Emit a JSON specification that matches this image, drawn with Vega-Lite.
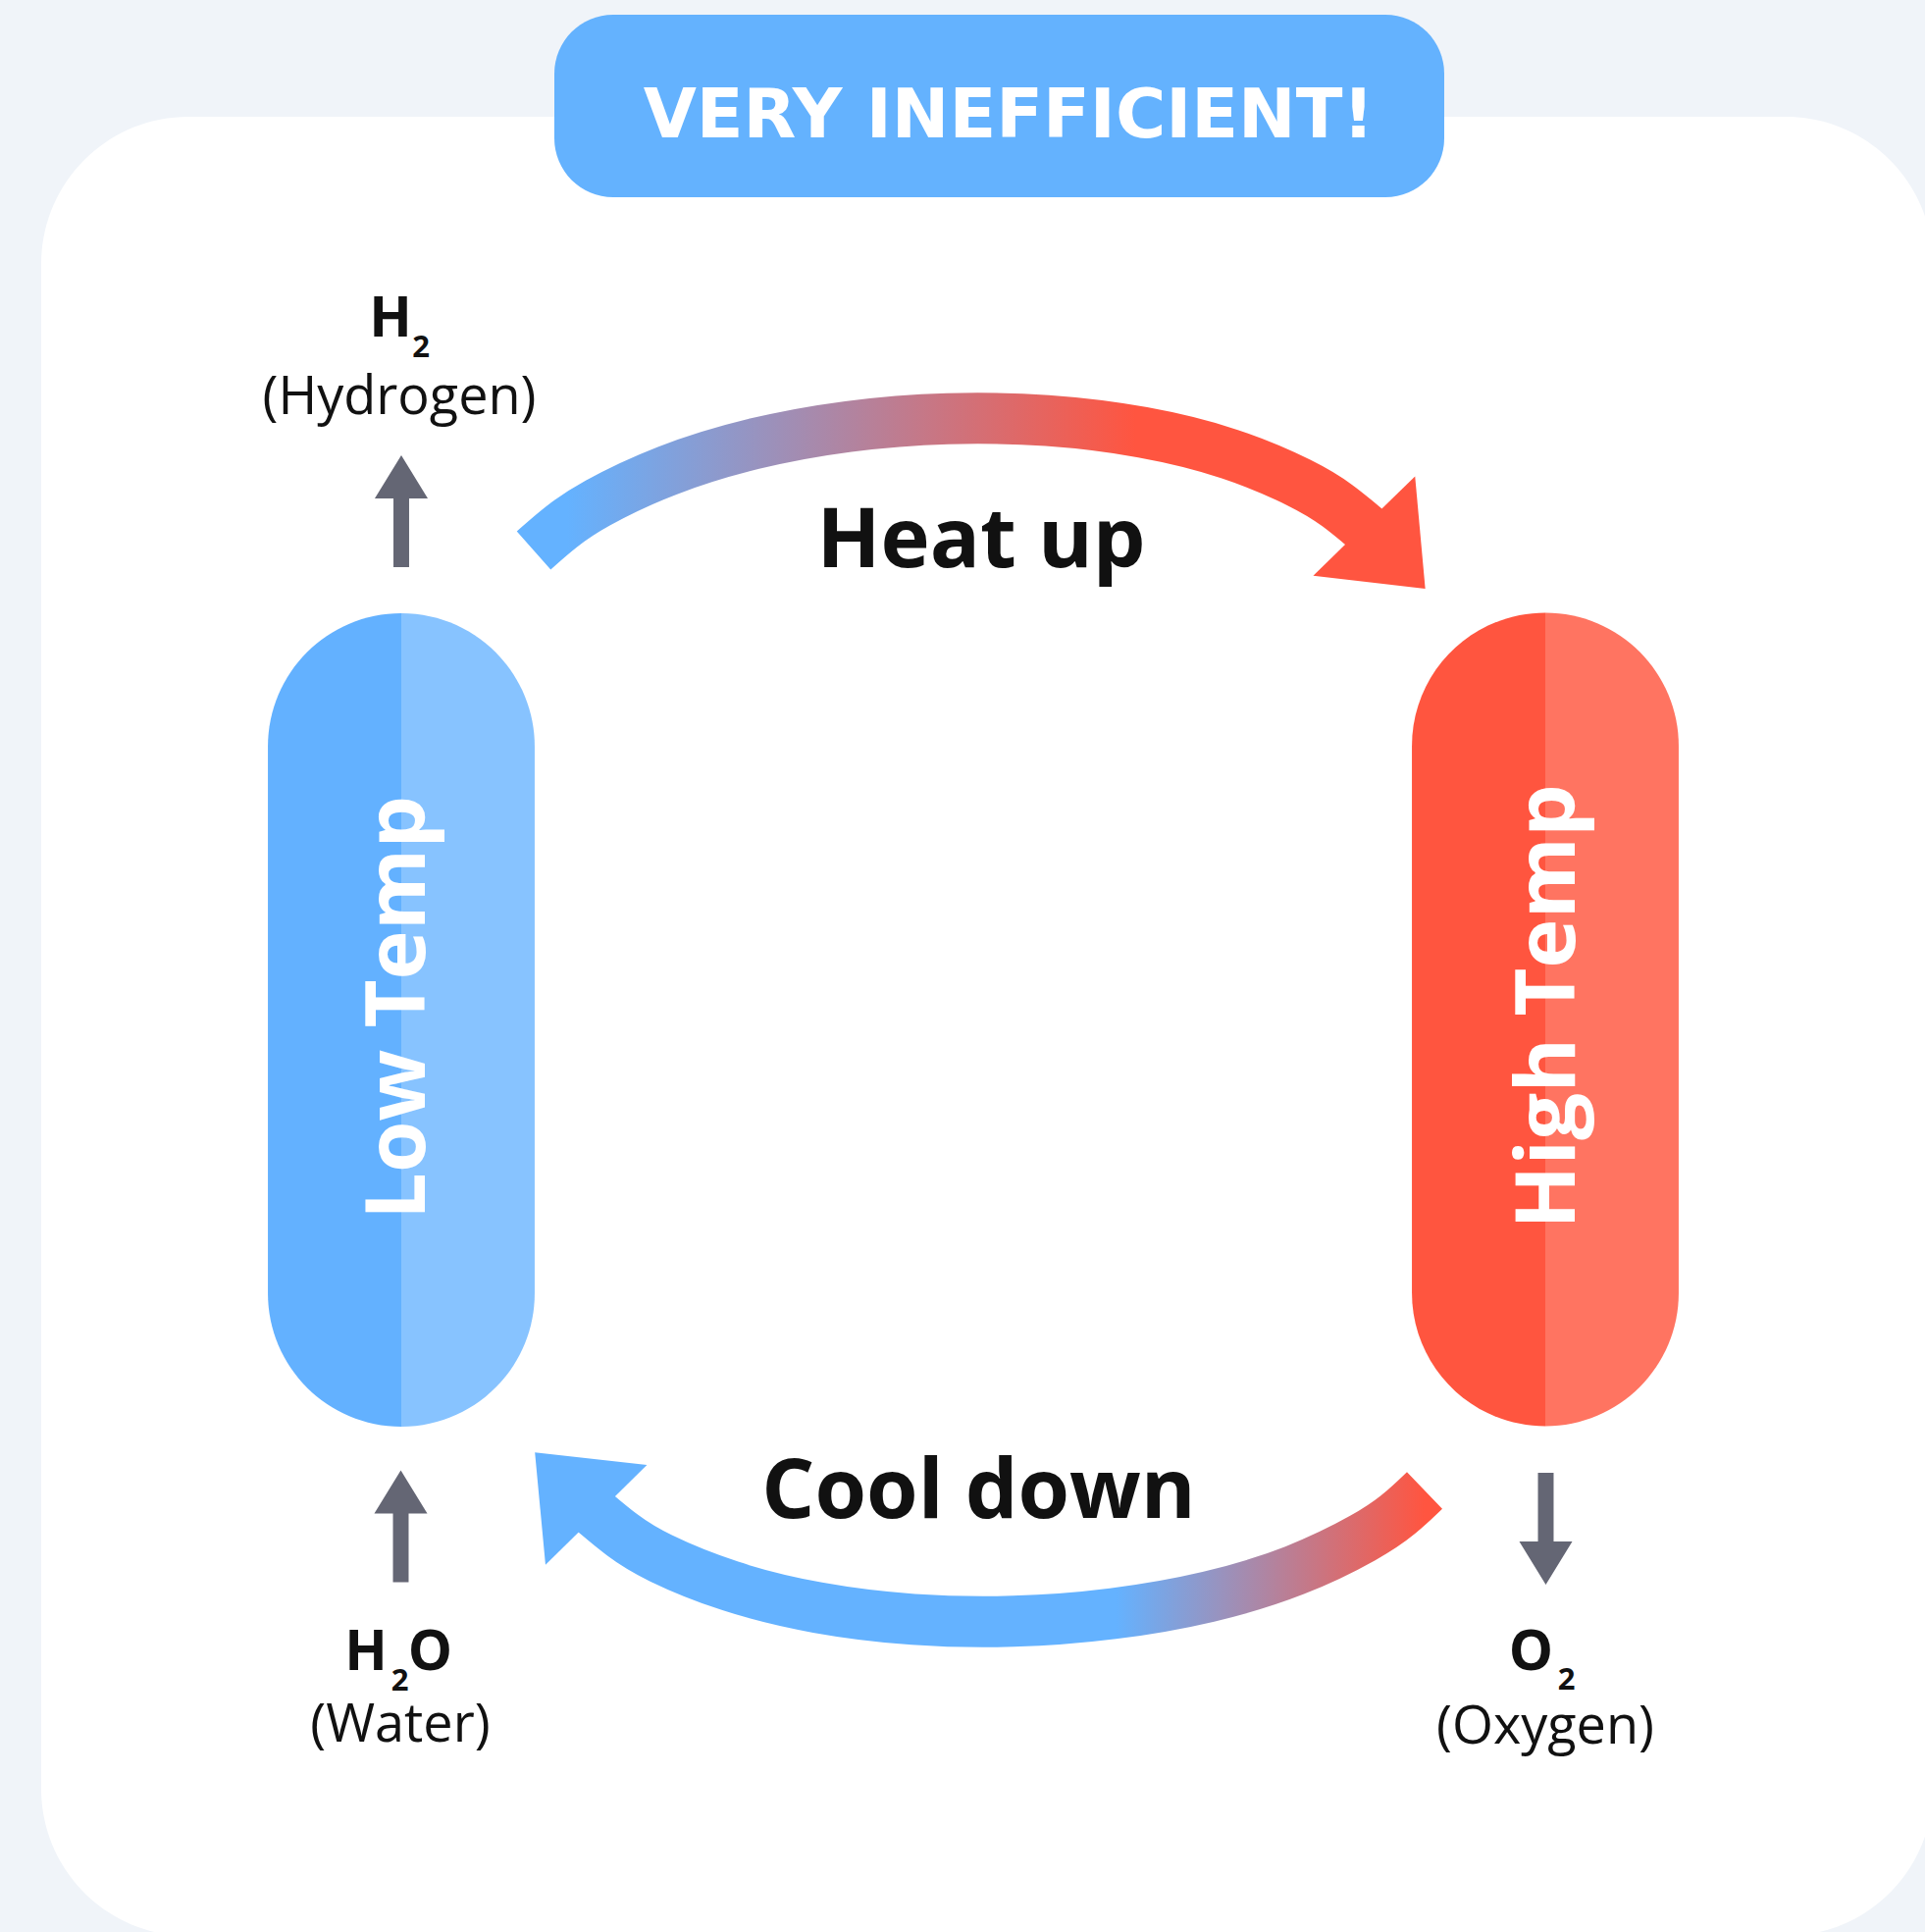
{
  "$schema": "https://vega.github.io/schema/vega-lite/v6.json",
  "width": 1962,
  "height": 1969,
  "autosize": {"type": "none"},
  "padding": 0,
  "background": "#f0f4f9",
  "config": {"view": {"stroke": null}},
  "datasets": {
    "card": [{"x": 42, "x2": 1970, "y": 119, "y2": 1973}],
    "banner": [{"x": 565, "x2": 1472, "y": 15, "y2": 201}],
    "halves": [
      {"vessel": "low", "side": "left", "tone": "blue", "x": 409, "y": 1039.5},
      {"vessel": "low", "side": "right", "tone": "lightblue", "x": 409, "y": 1039.5},
      {"vessel": "high", "side": "left", "tone": "red", "x": 1575, "y": 1039},
      {"vessel": "high", "side": "right", "tone": "lightred", "x": 1575, "y": 1039}
    ],
    "heatPath": [
      {"x": 544, "y": 561}, {"x": 571, "y": 537}, {"x": 602, "y": 515}, {"x": 678, "y": 478},
      {"x": 766, "y": 451}, {"x": 864, "y": 433}, {"x": 966, "y": 425}, {"x": 1068, "y": 427},
      {"x": 1166, "y": 439}, {"x": 1256, "y": 461}, {"x": 1331, "y": 494}, {"x": 1363, "y": 514},
      {"x": 1396, "y": 542}
    ],
    "coolPath": [
      {"x": 602, "y": 1538}, {"x": 635, "y": 1566}, {"x": 666, "y": 1586}, {"x": 742, "y": 1618},
      {"x": 832, "y": 1640}, {"x": 930, "y": 1652}, {"x": 1033, "y": 1654}, {"x": 1135, "y": 1646},
      {"x": 1233, "y": 1629}, {"x": 1322, "y": 1602}, {"x": 1396, "y": 1565}, {"x": 1427, "y": 1543},
      {"x": 1452, "y": 1519}
    ],
    "heatHead": [{"x": 1402, "y": 548}],
    "coolHead": [{"x": 596, "y": 1532}],
    "upArrows": [{"what": "hydrogen out", "x": 409, "y": 521}, {"what": "water in", "x": 408.5, "y": 1555.5}],
    "downArrows": [{"what": "oxygen out", "x": 1575.5, "y": 1558}],
    "title": [{"x": 1028, "y": 140, "label": "VERY INEFFICIENT!"}],
    "vesselLabels": [{"x": 433, "y": 1027, "label": "Low Temp"}, {"x": 1605, "y": 1026, "label": "High Temp"}],
    "stepLabels": [{"x": 1000, "y": 578, "label": "Heat up"}, {"x": 997.5, "y": 1547, "label": "Cool down"}],
    "formula": [
      {"x": 398, "y": 343, "label": "H"},
      {"x": 373, "y": 1702, "label": "H"},
      {"x": 438.5, "y": 1702, "label": "O"},
      {"x": 1560.5, "y": 1702, "label": "O"}
    ],
    "subscripts": [
      {"x": 429, "y": 364, "label": "2"},
      {"x": 407.5, "y": 1723, "label": "2"},
      {"x": 1596.5, "y": 1722, "label": "2"}
    ],
    "names": [
      {"x": 407, "y": 422, "label": "(Hydrogen)"},
      {"x": 408, "y": 1775, "label": "(Water)"},
      {"x": 1575, "y": 1777, "label": "(Oxygen)"}
    ]
  },
  "encoding": {
    "x": {"field": "x", "type": "quantitative", "scale": {"domain": [0, 1962], "nice": false, "zero": false}, "axis": null},
    "y": {"field": "y", "type": "quantitative", "scale": {"domain": [0, 1969], "nice": false, "zero": false, "reverse": true}, "axis": null}
  },
  "layer": [
    {
      "data": {"name": "card"},
      "mark": {"type": "rect", "color": "#ffffff", "cornerRadius": 150, "strokeWidth": 0},
      "encoding": {"x2": {"field": "x2"}, "y2": {"field": "y2"}}
    },
    {
      "data": {"name": "banner"},
      "mark": {"type": "rect", "color": "#64b2fe", "cornerRadius": 60, "strokeWidth": 0},
      "encoding": {"x2": {"field": "x2"}, "y2": {"field": "y2"}}
    },
    {
      "data": {"name": "halves"},
      "mark": {"type": "point", "filled": true, "opacity": 1, "size": 687241, "strokeWidth": 0},
      "encoding": {
        "shape": {"field": "side", "type": "nominal", "legend": null,
          "scale": {"domain": ["left", "right"], "range": [
            "M0,-1 C-0.1812,-1 -0.328,-0.8532 -0.328,-0.672 L-0.328,0.672 C-0.328,0.8532 -0.1812,1 0,1 Z",
            "M0,-1 C0.1812,-1 0.328,-0.8532 0.328,-0.672 L0.328,0.672 C0.328,0.8532 0.1812,1 0,1 Z"]}},
        "color": {"field": "tone", "type": "nominal", "legend": null,
          "scale": {"domain": ["blue", "lightblue", "red", "lightred"], "range": ["#63b1ff", "#87c3ff", "#ff553f", "#ff7461"]}}
      }
    },
    {
      "data": {"name": "heatPath"},
      "mark": {"type": "line", "interpolate": "basis", "strokeWidth": 52, "strokeCap": "butt",
        "stroke": {"gradient": "linear", "x1": 0, "y1": 0, "x2": 1, "y2": 0,
          "stops": [{"offset": 0, "color": "#64b2ff"}, {"offset": 0.04, "color": "#64b2ff"}, {"offset": 0.72, "color": "#ff5540"}, {"offset": 1, "color": "#ff5540"}]}},
      "encoding": {}
    },
    {
      "data": {"name": "coolPath"},
      "mark": {"type": "line", "interpolate": "basis", "strokeWidth": 52, "strokeCap": "butt",
        "stroke": {"gradient": "linear", "x1": 0, "y1": 0, "x2": 1, "y2": 0,
          "stops": [{"offset": 0, "color": "#64b2ff"}, {"offset": 0.63, "color": "#64b2ff"}, {"offset": 1, "color": "#ff5540"}]}},
      "encoding": {}
    },
    {
      "data": {"name": "heatHead"},
      "mark": {"type": "point", "shape": "M1,0 L-0.23,1 L-0.23,-1 Z", "size": 21025, "angle": 45.7, "filled": true, "opacity": 1, "color": "#ff5540", "strokeWidth": 0}
    },
    {
      "data": {"name": "coolHead"},
      "mark": {"type": "point", "shape": "M1,0 L-0.23,1 L-0.23,-1 Z", "size": 21025, "angle": 225.5, "filled": true, "opacity": 1, "color": "#64b2ff", "strokeWidth": 0}
    },
    {
      "data": {"name": "upArrows"},
      "mark": {"type": "point", "shape": "M0,-1 L0.474,-0.228 L0.14,-0.228 L0.14,1 L-0.14,1 L-0.14,-0.228 L-0.474,-0.228 Z", "size": 12996, "filled": true, "opacity": 1, "color": "#646674", "strokeWidth": 0}
    },
    {
      "data": {"name": "downArrows"},
      "mark": {"type": "point", "shape": "M0,-1 L0.474,-0.228 L0.14,-0.228 L0.14,1 L-0.14,1 L-0.14,-0.228 L-0.474,-0.228 Z", "size": 12996, "angle": 180, "filled": true, "opacity": 1, "color": "#646674", "strokeWidth": 0}
    },
    {
      "data": {"name": "title"},
      "mark": {"type": "text", "font": "DejaVu Sans", "fontWeight": "bold", "fontSize": 70, "color": "#ffffff", "align": "center", "baseline": "alphabetic"},
      "encoding": {"text": {"field": "label"}}
    },
    {
      "data": {"name": "vesselLabels"},
      "mark": {"type": "text", "font": "Open Sans", "fontWeight": "bold", "fontSize": 85, "angle": 270, "color": "#ffffff", "align": "center", "baseline": "alphabetic"},
      "encoding": {"text": {"field": "label"}}
    },
    {
      "data": {"name": "stepLabels"},
      "mark": {"type": "text", "font": "Open Sans", "fontWeight": "bold", "fontSize": 85, "color": "#111111", "align": "center", "baseline": "alphabetic"},
      "encoding": {"text": {"field": "label"}}
    },
    {
      "data": {"name": "formula"},
      "mark": {"type": "text", "font": "Open Sans", "fontWeight": "bold", "fontSize": 57, "color": "#111111", "align": "center", "baseline": "alphabetic"},
      "encoding": {"text": {"field": "label"}}
    },
    {
      "data": {"name": "subscripts"},
      "mark": {"type": "text", "font": "Open Sans", "fontWeight": "bold", "fontSize": 31, "color": "#111111", "align": "center", "baseline": "alphabetic"},
      "encoding": {"text": {"field": "label"}}
    },
    {
      "data": {"name": "names"},
      "mark": {"type": "text", "font": "Open Sans", "fontWeight": "normal", "fontSize": 54, "color": "#111111", "align": "center", "baseline": "alphabetic"},
      "encoding": {"text": {"field": "label"}}
    }
  ]
}
